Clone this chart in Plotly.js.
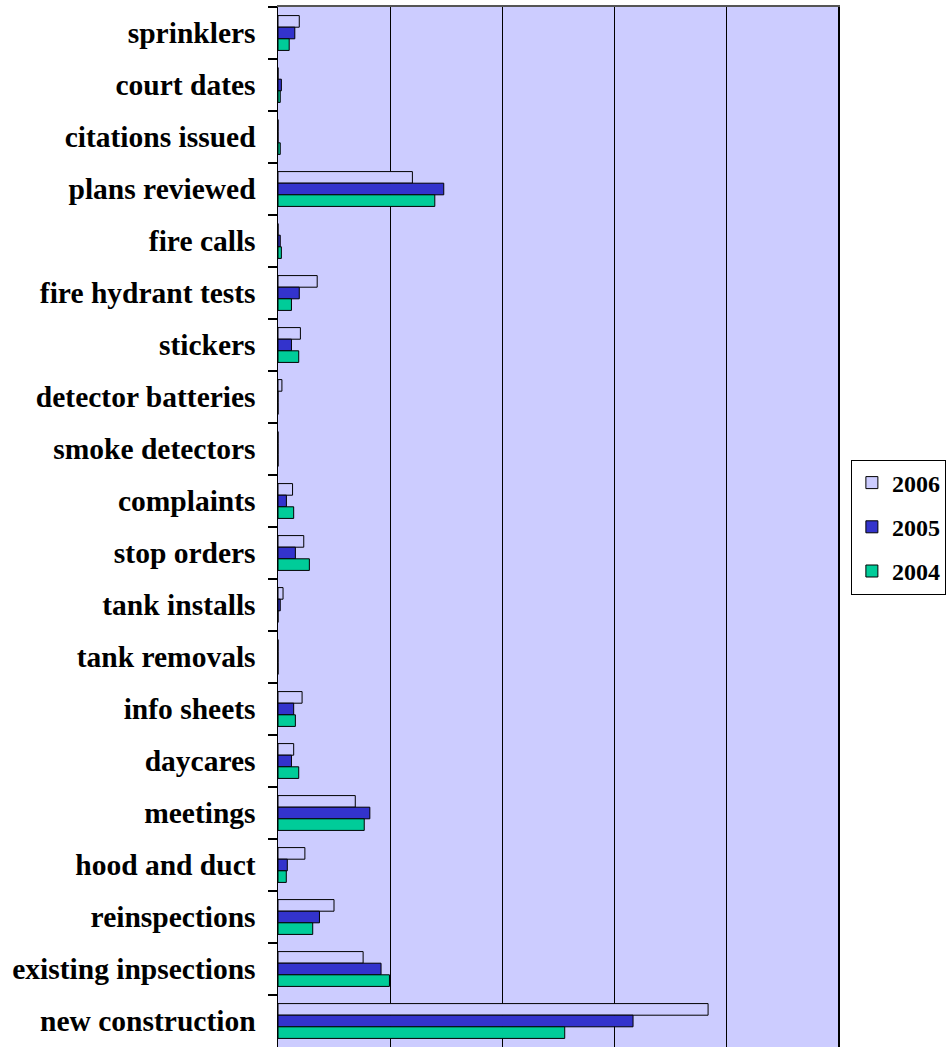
<!DOCTYPE html>
<html>
<head>
<meta charset="utf-8">
<script src="https://cdn.plot.ly/plotly-3.0.1.min.js"></script>
<style>html,body{margin:0;padding:0;overflow:hidden;background:#fff;}</style>
</head>
<body>
<div id="chart" style="width:951px;height:1047px;"></div>
<script>
const categories = ["sprinklers","court dates","citations issued","plans reviewed","fire calls","fire hydrant tests","stickers","detector batteries","smoke detectors","complaints","stop orders","tank installs","tank removals","info sheets","daycares","meetings","hood and duct","reinspections","existing inpsections","new construction"];
const values2006 = [19, 0, 0, 120, 0, 35, 20, 3.5, 0, 13, 23, 4.5, 0, 21.5, 14, 69, 24, 50, 76, 384];
const values2005 = [15, 3, 0, 148, 2, 19, 12, 0, 0, 7.5, 15.5, 2, 0, 14, 12, 82, 8.3, 37, 92, 317];
const values2004 = [10, 2, 2, 140, 3, 12, 18.5, 0, 0, 14, 28, 0, 0, 15.5, 18.5, 77, 7.4, 31, 99.5, 256];
const seriesNames = ["2006","2005","2004"];

const colors = ["#CCCCFF","#3333CC","#00CC99"];
const allValues = [values2006, values2005, values2004];
const traces = allValues.map((v,i)=>({
  type:'bar', orientation:'h', name:seriesNames[i], legendgroup:'g'+i,
  y:categories, x:v,
  marker:{color:colors[i], line:{color:'#000', width:1}},
  hoverinfo:'x+y'
}));

const layout = {
  width:951, height:1047,
  margin:{l:278, r:113, t:7, b:0, pad:0},
  paper_bgcolor:'#fff', plot_bgcolor:'#CCCCFF',
  barmode:'group', bargap:0.33, bargroupgap:0,
  showlegend:true,
  legend:{x:1.023, xanchor:'left', y:0.5, yanchor:'middle', bgcolor:'#fff', bordercolor:'#000', borderwidth:1,
    tracegroupgap:10,
    font:{family:'Liberation Serif, Times New Roman, serif', size:24, color:'#000', weight:'bold'}, traceorder:'grouped'},
  xaxis:{range:[0,500], dtick:100, tick0:0, showgrid:true, gridcolor:'#000', gridwidth:1,
    showticklabels:false, ticks:'', zeroline:false, showline:true, mirror:true, linecolor:'#555', linewidth:2, fixedrange:true},
  yaxis:{type:'category', autorange:'reversed', tickson:'boundaries', ticks:'outside', ticklen:9, tickcolor:'#000', tickwidth:1.5,
    showline:true, mirror:true, linecolor:'#000', linewidth:1.5, showgrid:false, ticklabelstandoff:15,
    tickfont:{family:'Liberation Serif, Times New Roman, serif', size:29.5, color:'#000', weight:'bold'}, fixedrange:true}
};
Plotly.newPlot('chart', traces, layout, {displayModeBar:false, staticPlot:true});
</script>
</body>
</html>
